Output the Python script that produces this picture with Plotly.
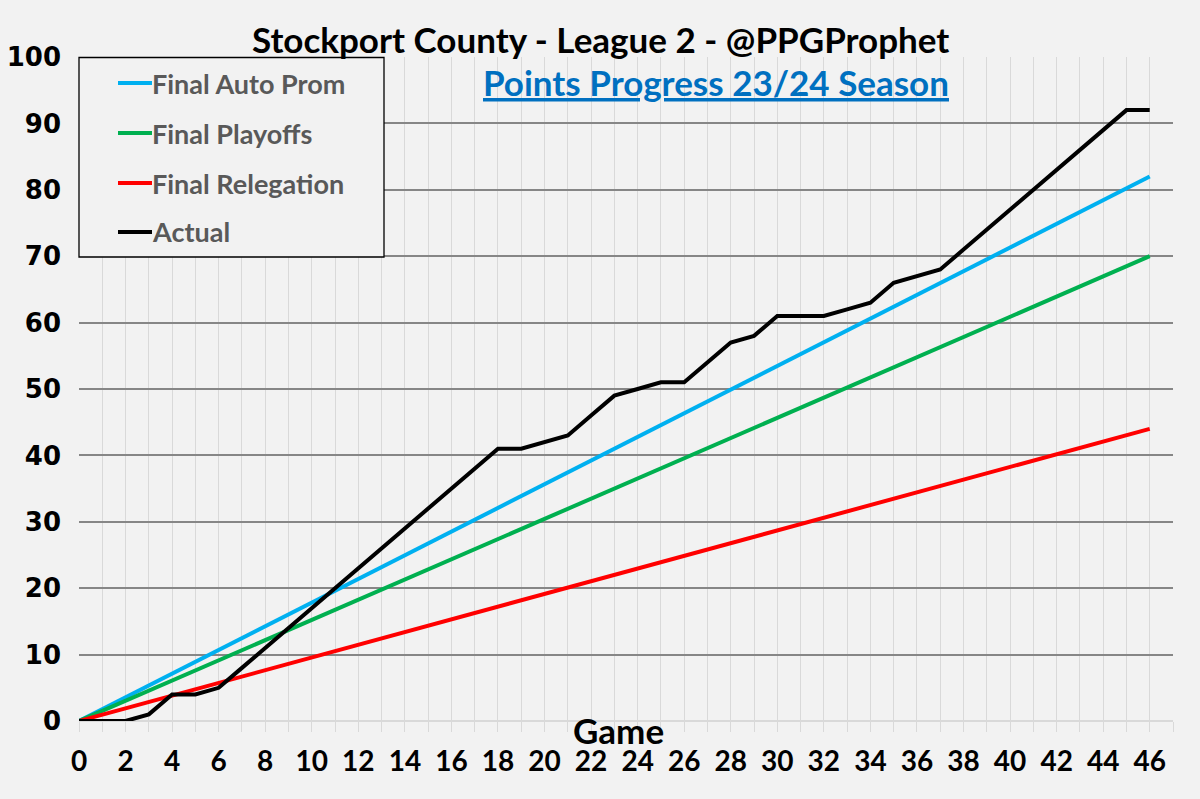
import plotly.graph_objects as go

# ---------------- data ----------------
games = list(range(0, 47))
actual = [0, 0, 0, 1, 4, 4, 5, 8, 11, 14, 17, 20, 23, 26, 29, 32, 35, 38, 41,
          41, 42, 43, 46, 49, 50, 51, 51, 54, 57, 58, 61, 61, 61, 62, 63, 66,
          67, 68, 71, 74, 77, 80, 83, 86, 89, 92, 92]
proj_games = [0, 46]
auto_prom = [0, 82]
playoffs = [0, 70]
relegation = [0, 44]

series_names = ["Final Auto Prom", "Final Playoffs", "Final Relegation", "Actual"]
series_colors = ["#00b0f0", "#00b050", "#ff0000", "#000000"]

x_tickvals = list(range(0, 48))
x_ticktext = [str(v) if (v % 2 == 0 and v <= 46) else "" for v in x_tickvals]
y_tickvals = [0, 10, 20, 30, 40, 50, 60, 70, 80, 90, 100]

title_text = "Stockport County - League 2 - @PPGProphet"
subtitle_text = "Points Progress 23/24 Season"
xaxis_title = "Game"

# ---------------- layout geometry ----------------
W, H = 1200, 799
ML, MR, MT, MB = 79, 27, 57, 78
PW, PH = W - ML - MR, H - MT - MB
BG = "#f2f2f2"
CAL = "Lato"


def px(x):
    return (x - ML) / PW


def py(y):
    return (H - MB - y) / PH


fig = go.Figure()
ys = [auto_prom, playoffs, relegation]
for name, col, yv in zip(series_names[:3], series_colors[:3], ys):
    fig.add_trace(go.Scatter(x=proj_games, y=yv, mode="lines", name=name,
                             line=dict(color=col, width=4), showlegend=False,
                             hoverinfo="skip"))
fig.add_trace(go.Scatter(x=games, y=actual, mode="lines", name=series_names[3],
                         line=dict(color=series_colors[3], width=4),
                         showlegend=False))

# legend drawn manually to match the boxed Excel legend
shapes = [dict(type="rect", xref="paper", yref="paper",
               x0=px(79), x1=px(384), y0=py(257), y1=py(57.5),
               line=dict(color="#000000", width=1.3), fillcolor=BG, layer="above")]
annotations = []
leg_y = [83, 133, 183, 232]
for name, col, yy in zip(series_names, series_colors, leg_y):
    shapes.append(dict(type="line", xref="paper", yref="paper",
                       x0=px(118), x1=px(152), y0=py(yy), y1=py(yy),
                       line=dict(color=col, width=4), layer="above"))
    annotations.append(dict(text=name, xref="paper", yref="paper",
                            x=px(150), y=py(yy), xanchor="left", yanchor="middle",
                            showarrow=False,
                            font=dict(family=CAL, size=27, color="#595959", weight="bold")))

annotations.append(dict(text=title_text, xref="paper", yref="paper",
                        x=px(600), y=py(39), xanchor="center", yanchor="middle",
                        showarrow=False,
                        font=dict(family=CAL, size=35, color="#000000", weight="bold")))
annotations.append(dict(text="<u>" + subtitle_text + "</u>", xref="paper", yref="paper",
                        x=px(716), y=py(82), xanchor="center", yanchor="middle",
                        showarrow=False,
                        font=dict(family=CAL, size=35, color="#0070c0", weight="bold")))
annotations.append(dict(text=xaxis_title, xref="paper", yref="paper",
                        x=px(618), y=py(730), xanchor="center", yanchor="middle",
                        showarrow=False,
                        font=dict(family=CAL, size=35, color="#000000", weight="bold")))

fig.update_layout(
    width=W, height=H,
    margin=dict(l=ML, r=MR, t=MT, b=MB, pad=0),
    paper_bgcolor=BG, plot_bgcolor=BG,
    shapes=shapes, annotations=annotations,
    showlegend=False,
    xaxis=dict(range=[0, 47], tickmode="array", tickvals=x_tickvals, ticktext=x_ticktext,
               showgrid=True, gridcolor="#d9d9d9", gridwidth=1, automargin=False,
               ticks="outside", ticklen=10, tickcolor="#d9d9d9", tickwidth=1,
               showline=False, zeroline=False, ticklabelstandoff=5,
               tickfont=dict(family=CAL, size=28, color="#000000", weight="bold")),
    yaxis=dict(range=[0, 100], tickmode="array", tickvals=y_tickvals,
               showgrid=True, gridcolor="#868686", gridwidth=1.6, automargin=False,
               zeroline=True, zerolinecolor="#d9d9d9", zerolinewidth=1.5,
               ticks="", showline=False, ticklabelstandoff=17,
               tickfont=dict(family="DejaVu Sans", size=26, color="#000000", weight="bold")),
)

fig.write_html("out.html", config={"displayModeBar": False},
               post_script="document.body.style.margin='0';document.body.style.overflow='hidden';")
